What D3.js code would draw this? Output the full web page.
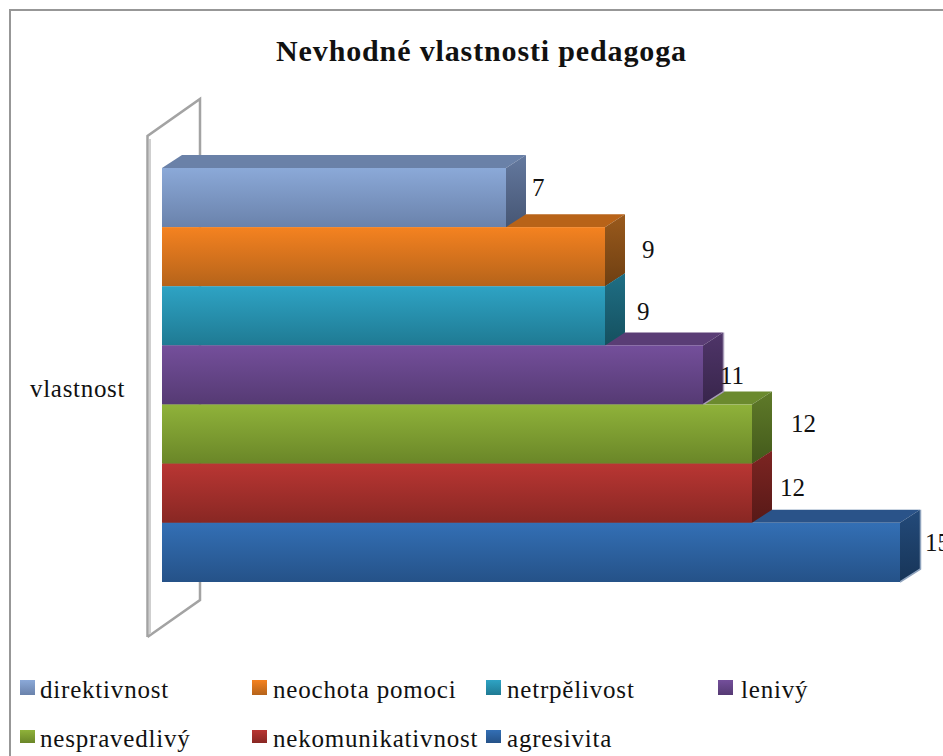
<!DOCTYPE html>
<html>
<head>
<meta charset="utf-8">
<script src="https://cdn.jsdelivr.net/npm/d3@7"></script>
<style>
  html, body { margin: 0; padding: 0; background: #fff; overflow: hidden; }
  text { font-family: "Liberation Serif", serif; fill: #111; }
</style>
</head>
<body>
<div id="chart"></div>
<script>
// chart data, top bar first
var names = ["direktivnost", "neochota pomoci", "netrpělivost", "lenivý", "nespravedlivý", "nekomunikativnost", "agresivita"];
var values = [7, 9, 9, 11, 12, 12, 15];
var categoryLabel = "vlastnost";
var title = "Nevhodné vlastnosti pedagoga";

// colours per bar
var frontTop = ["#8ba9d8", "#f58220", "#2ea3c4", "#744f9b", "#8fb23a", "#b93633", "#336fb5"];
var frontBottom = ["#6a82ab", "#b5631a", "#1f7a93", "#553a73", "#6a8628", "#882723", "#255288"];
var topFace = ["#6a81a8", "#b86318", "#22788f", "#5a3d75", "#6b8a2e", "#8a2a27", "#2a5389"];
var sideTop = ["#64799f", "#9a5a1c", "#1f6f85", "#4f3569", "#5f7a29", "#7d2522", "#234a7a"];
var sideBottom = ["#465674", "#6e3f12", "#15505f", "#38254b", "#435a1b", "#571917", "#173558"];
var sideEdge = ["none", "none", "none", "#a79bb8", "none", "none", "#8fa3bd"];

// the labels do not sit at a fixed distance from the bars in the original
var labelDx = [6, 17, 12, -3, 19, 8, 5];
var labelY = [196, 258, 320, 384, 432, 496, 551];

var svgWidth = 943, svgHeight = 756;
var depth = { x: 20, y: 13 };

var svg = d3.select("#chart").append("svg")
    .attr("width", svgWidth)
    .attr("height", svgHeight)
    .style("display", "block");

// rounded x so there is no light seam between the front and the side
var x = d3.scaleLinear().domain([0, 15]).rangeRound([162, 900]);
var y = d3.scaleBand().domain(names).range([168, 582]);

// gradients for the front and side of each bar
var defs = svg.append("defs");
function addGradient(id, from, to) {
    var g = defs.append("linearGradient").attr("id", id)
        .attr("x1", 0).attr("y1", 0).attr("x2", 0).attr("y2", 1);
    g.append("stop").attr("offset", "0%").attr("stop-color", from);
    g.append("stop").attr("offset", "100%").attr("stop-color", to);
}
names.forEach(function(d, i) {
    addGradient("front" + i, frontTop[i], frontBottom[i]);
    addGradient("side" + i, sideTop[i], sideBottom[i]);
});

// outer frame, only top and left are visible
svg.append("path")
    .attr("d", "M10,756V10H943")
    .attr("fill", "none")
    .attr("stroke", "#979797")
    .attr("stroke-width", 2);

// back wall
svg.append("path")
    .attr("d", "M147.5,637V136L200,99V600L147.5,637")
    .attr("fill", "#fff")
    .attr("stroke", "#a3a3a3")
    .attr("stroke-width", 2.5);
svg.append("line")
    .attr("x1", 150).attr("x2", 150)
    .attr("y1", 139).attr("y2", 634)
    .attr("stroke", "#cfcfcf")
    .attr("stroke-width", 2);

// top faces first, then sides, then fronts, so a side hides the top of an equal bar below it
svg.selectAll(".top")
    .data(names)
    .enter()
    .append("path")
    .attr("class", "top")
    .attr("d", function(d, i) {
        var x0 = x(0), x1 = x(values[i]), y0 = y(d);
        return `M${x0},${y0}L${x0 + depth.x},${y0 - depth.y}H${x1 + depth.x}L${x1},${y0}Z`;
    })
    .attr("fill", function(d, i) { return topFace[i]; });

svg.selectAll(".side")
    .data(names)
    .enter()
    .append("path")
    .attr("class", "side")
    .attr("d", function(d, i) {
        var x1 = x(values[i]), y0 = y(d), y1 = y0 + y.bandwidth();
        return `M${x1},${y0}L${x1 + depth.x},${y0 - depth.y}V${y1 - depth.y}L${x1},${y1}Z`;
    })
    .attr("fill", function(d, i) { return `url(#side${i})`; });

// light edge on a couple of the sides
svg.selectAll(".edge")
    .data(names)
    .enter()
    .append("path")
    .attr("class", "edge")
    .attr("d", function(d, i) {
        var x1 = x(values[i]), y0 = y(d), y1 = y0 + y.bandwidth();
        return `M${x1 + depth.x + 0.5},${y0 - depth.y}V${y1 - depth.y}L${x1},${y1}`;
    })
    .attr("fill", "none")
    .attr("stroke", function(d, i) { return sideEdge[i]; })
    .attr("stroke-width", 1.5);

svg.selectAll(".front")
    .data(names)
    .enter()
    .append("rect")
    .attr("class", "front")
    .attr("x", x(0))
    .attr("y", function(d) { return y(d); })
    .attr("width", function(d, i) { return x(values[i]) - x(0); })
    .attr("height", y.bandwidth())
    .attr("fill", function(d, i) { return `url(#front${i})`; });

// value labels
svg.selectAll(".value")
    .data(values)
    .enter()
    .append("text")
    .attr("class", "value")
    .attr("x", function(d, i) { return x(d) + depth.x + labelDx[i]; })
    .attr("y", function(d, i) { return labelY[i]; })
    .attr("font-size", 25)
    .text(function(d) { return d; });

// title and category label
svg.append("text")
    .attr("x", 481.5)
    .attr("y", 61)
    .attr("text-anchor", "middle")
    .attr("font-size", 30)
    .attr("letter-spacing", 0.86)
    .attr("font-weight", "bold")
    .text(title);

svg.append("text")
    .attr("x", 30)
    .attr("y", 397)
    .attr("font-size", 25)
    .attr("letter-spacing", 0.7)
    .text(categoryLabel);

// legend, four columns and two rows
var legendColumns = [20, 252, 486, 718];
var legendTextDx = [20, 21, 21, 23];
var legendRows = [680, 730];
var legendBaselines = [698, 747];
var legendSwatchH = [15, 13];

var legend = svg.selectAll(".legend")
    .data(names)
    .enter()
    .append("g")
    .attr("class", "legend");

legend.append("rect")
    .attr("x", function(d, i) { return legendColumns[i % 4]; })
    .attr("y", function(d, i) { return legendRows[Math.floor(i / 4)]; })
    .attr("width", 15)
    .attr("height", function(d, i) { return legendSwatchH[Math.floor(i / 4)]; })
    .attr("fill", function(d, i) { return `url(#front${i})`; });

legend.append("text")
    .attr("x", function(d, i) { return legendColumns[i % 4] + legendTextDx[i % 4]; })
    .attr("y", function(d, i) { return legendBaselines[Math.floor(i / 4)]; })
    .attr("font-size", 25)
    .attr("letter-spacing", 0.8)
    .text(function(d) { return d; });
</script>
</body>
</html>
